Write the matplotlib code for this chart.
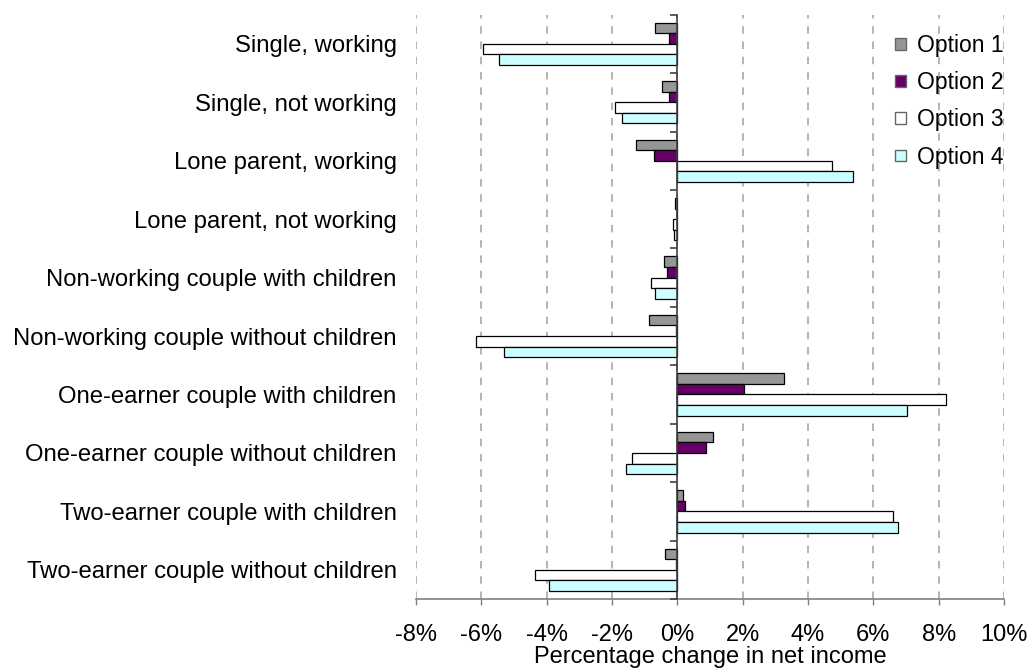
import matplotlib
matplotlib.use("Agg")
import matplotlib.pyplot as plt
import numpy as np
from matplotlib.ticker import FuncFormatter, FixedLocator
from matplotlib.patches import Patch

plt.rcParams["font.family"] = ["Liberation Sans", "DejaVu Sans"]

categories = [
    "Single, working",
    "Single, not working",
    "Lone parent, working",
    "Lone parent, not working",
    "Non-working couple with children",
    "Non-working couple without children",
    "One-earner couple with children",
    "One-earner couple without children",
    "Two-earner couple with children",
    "Two-earner couple without children",
]

option_names = ["Option 1", "Option 2", "Option 3", "Option 4"]

# percentage change in net income, per household type
option_1 = [-0.69, -0.46, -1.27, -0.06, -0.42, -0.87, 3.28, 1.08, 0.18, -0.39]
option_2 = [-0.26, -0.24, -0.70, -0.02, -0.31, -0.03, 2.03, 0.87, 0.25, -0.04]
option_3 = [-5.96, -1.91, 4.74, -0.13, -0.80, -6.15, 8.21, -1.39, 6.61, -4.36]
option_4 = [-5.45, -1.69, 5.38, -0.10, -0.69, -5.30, 7.02, -1.56, 6.75, -3.94]

x_ticks = [-8, -6, -4, -2, 0, 2, 4, 6, 8, 10]

series = [option_1, option_2, option_3, option_4]
colors = ["#969696", "#660066", "#FFFFFF", "#CCFFFF"]

FS = 17.2

fig = plt.figure(figsize=(10.29, 6.71), dpi=100)
ax = fig.add_axes([416 / 1029, 1 - 599 / 671, (1004 - 416) / 1029, (599 - 14.7) / 671])

y = np.arange(len(categories))
bar_h = 0.181
for j, (vals, col) in enumerate(zip(series, colors)):
    ax.barh(y + (j - 1.5) * bar_h, vals, height=bar_h, color=col,
            edgecolor="black", linewidth=0.9, label=option_names[j], zorder=3)

xmin, xmax = x_ticks[0], x_ticks[-1]
ax.set_xlim(xmin, xmax)
ax.set_ylim(len(categories) - 0.5, -0.5)

# x axis
ax.xaxis.set_major_locator(FixedLocator(x_ticks))
ax.xaxis.set_major_formatter(FuncFormatter(lambda v, p: f"{v:.0f}%"))
ax.tick_params(axis="x", direction="out", length=4.3, width=1, color="#808080",
               labelsize=17, pad=14)
ax.set_xlabel("Percentage change in net income", fontsize=17, labelpad=0)
ax.grid(axis="x", color="#A0A0A0", linestyle=(0, (4.9, 5.1)), linewidth=1.1, zorder=0)

for s in ["top", "right", "left"]:
    ax.spines[s].set_visible(False)
ax.spines["bottom"].set_color("#808080")
ax.spines["bottom"].set_linewidth(1.2)

# category labels on the left, no ticks
ax.set_yticks(y)
ax.set_yticklabels(categories, fontsize=FS)
ax.tick_params(axis="y", length=0, pad=14)

# value axis crossing at zero with ticks between categories
zero_frac = (0 - xmin) / (xmax - xmin)
sec = ax.secondary_yaxis(zero_frac)
sec.set_yticks(np.arange(-0.5, len(categories) + 0.5, 1.0))
sec.set_yticklabels([])
sec.tick_params(axis="y", direction="out", length=5, width=1.2, color="#404040")
sec.spines["left"].set_color("#404040")
sec.spines["left"].set_linewidth(1.2)
sec.set_zorder(4)

handles = [Patch(facecolor=c, edgecolor="#666666", linewidth=1) for c in colors]
leg = ax.legend(handles, option_names, loc="upper left",
                bbox_to_anchor=(895 / 1029, 1 - 34 / 671),
                bbox_transform=fig.transFigure, frameon=False, fontsize=16.5,
                handlelength=0.5, handleheight=0.42, handletextpad=0.45,
                labelspacing=0.62, borderpad=0, borderaxespad=0)

fig.savefig("out.png", dpi=100)
